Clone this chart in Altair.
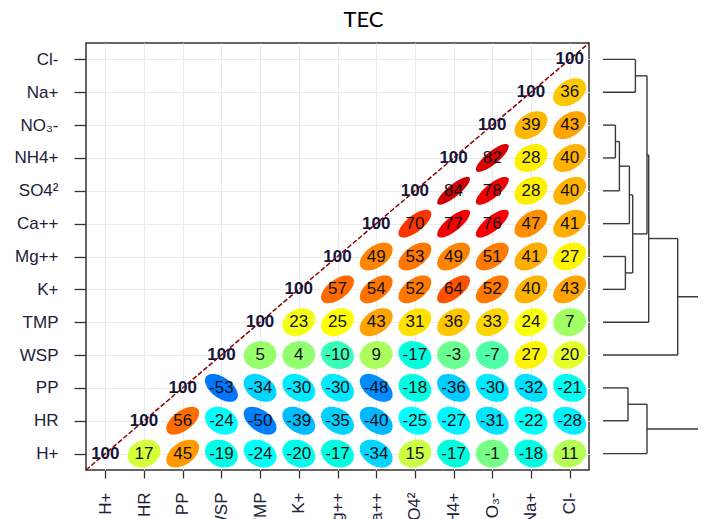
import math
import altair as alt
import pandas as pd

# variable order (x from left, y from bottom)
names = ["H+", "HR", "PP", "WSP", "TMP", "K+", "Mg++", "Ca++", "SO4²", "NH4+", "NO₃-", "Na+", "Cl-"]

# correlations x100, row i holds columns i..12 (upper triangle incl. diagonal)
row_H = [100, 17, 45, -19, -24, -20, -17, -34, 15, -17, -1, -18, 11]
row_HR = [100, 56, -24, -50, -39, -35, -40, -25, -27, -31, -22, -28]
row_PP = [100, -53, -34, -30, -30, -48, -18, -36, -30, -32, -21]
row_WSP = [100, 5, 4, -10, 9, -17, -3, -7, 27, 20]
row_TMP = [100, 23, 25, 43, 31, 36, 33, 24, 7]
row_K = [100, 57, 54, 52, 64, 52, 40, 43]
row_Mg = [100, 49, 53, 49, 51, 41, 27]
row_Ca = [100, 70, 77, 76, 47, 41]
row_SO4 = [100, 84, 78, 28, 40]
row_NH4 = [100, 82, 28, 40]
row_NO3 = [100, 39, 43]
row_Na = [100, 36]
row_Cl = [100]
rows = [row_H, row_HR, row_PP, row_WSP, row_TMP, row_K, row_Mg, row_Ca,
        row_SO4, row_NH4, row_NO3, row_Na, row_Cl]

# dendrogram (rows): merges of leaves (str) or earlier merges (int), with heights
merges = [("NO₃-", "NH4+"), (0, "SO4²"), ("Mg++", "K+"), ("PP", "HR"), (1, "Ca++"),
          (4, 2), ("Cl-", "Na+"), (6, 5), (3, "H+"), (7, "TMP"), (9, "WSP"), (10, 8)]
merge_heights = [0.124, 0.164, 0.224, 0.25, 0.264, 0.297, 0.324, 0.44, 0.44, 0.457, 0.747, 1.5]

jet = ["#00007F", "#0000FF", "#007FFF", "#00FFFF", "#7FFF7F", "#FFFF00", "#FF7F00", "#FF0000", "#7F0000"]
jet_stops = [-1, -0.75, -0.5, -0.25, 0, 0.25, 0.5, 0.75, 1]

KY = 32.85 / 38.7  # cell aspect


def ellipse_path(r, n=48):
    d = math.acos(max(-1.0, min(1.0, r)))
    pts = []
    for k in range(n):
        t = 2 * math.pi * k / n
        pts.append((math.cos(t + d / 2), -KY * math.cos(t - d / 2)))
    return "M" + " L".join(f"{x:.4f},{y:.4f}" for x, y in pts) + " Z"


recs = []
for i, row in enumerate(rows):
    for k, v in enumerate(row):
        j = i + k
        recs.append({"x": j, "y": i, "r": v / 100.0, "lab": str(v),
                     "path": ellipse_path(v / 100.0), "diag": j == i})
df = pd.DataFrame(recs)

n = len(names)
arr = "[" + ",".join("'" + s + "'" for s in names) + "]"
lab_expr = arr + "[datum.value]"

xs = alt.Scale(domain=[-0.5, n - 0.5], nice=False, zero=False)
ys = alt.Scale(domain=[-0.5, n - 0.5], nice=False, zero=False)

xax = alt.Axis(values=list(range(n)), tickCount=n, labelExpr=lab_expr, labelAngle=-90, title=None,
               domain=False, tickSize=8, tickColor="#333333", tickWidth=1.3,
               labelPadding=14, labelFontSize=17, labelFont="Liberation Sans",
               labelColor="#202038", labelOverlap=False,
               grid=True, gridColor="#ebebeb", gridWidth=1)
yax = alt.Axis(values=list(range(n)), tickCount=n, labelExpr=lab_expr, title=None,
               domain=False, tickSize=12, tickColor="#333333", tickWidth=1.3,
               labelPadding=16, labelFontSize=17, labelFont="Liberation Sans",
               labelColor="#202038", labelOverlap=False,
               grid=True, gridColor="#ebebeb", gridWidth=1)

base = alt.Chart(df)

ell = base.transform_filter("!datum.diag").mark_point(
    filled=True, opacity=1, strokeWidth=0, size=1080
).encode(
    x=alt.X("x:Q", scale=xs, axis=xax),
    y=alt.Y("y:Q", scale=ys, axis=yax),
    shape=alt.Shape("path:N", scale=None, legend=None),
    color=alt.Color("r:Q", scale=alt.Scale(domain=jet_stops, range=jet), legend=None),
)

diag_df = pd.DataFrame({"a": [-0.5], "b": [n - 0.5]})
diag = alt.Chart(diag_df).mark_rule(color="#8B0000", strokeWidth=1.5, strokeDash=[5, 2]).encode(
    x=alt.X("a:Q", scale=xs, axis=xax), x2="b:Q", y=alt.Y("a:Q", scale=ys, axis=yax), y2="b:Q"
)

txt = base.transform_filter("!datum.diag").mark_text(
    font="Liberation Sans", fontSize=17, color="#111111"
).encode(x=alt.X("x:Q", scale=xs, axis=xax), y=alt.Y("y:Q", scale=ys, axis=yax), text="lab:N")

txt100 = base.transform_filter("datum.diag").mark_text(
    font="Liberation Sans", fontSize=17, fontWeight="bold", color="#141438"
).encode(x=alt.X("x:Q", scale=xs, axis=xax), y=alt.Y("y:Q", scale=ys, axis=yax), text="lab:N")

matrix = alt.layer(ell, diag, txt, txt100).properties(
    width=503, height=427,
    title=alt.TitleParams("TEC", fontSize=22, font="Lato", fontWeight="normal",
                          anchor="middle", dx=26, offset=10, color="#000000"),
    view=alt.ViewBackground(stroke="#333333", strokeWidth=1.5),
)

# dendrogram segments derived from merges
leaf_y = {nm: i for i, nm in enumerate(names)}
node_y, node_h, segs = [], [], []


def pos(c):
    if isinstance(c, str):
        return leaf_y[c], 0.0
    return node_y[c], node_h[c]


for (a, b), h in zip(merges, merge_heights):
    ya, ha = pos(a)
    yb, hb = pos(b)
    segs.append({"x": ha, "x2": h, "y": ya, "y2": ya})
    segs.append({"x": hb, "x2": h, "y": yb, "y2": yb})
    segs.append({"x": h, "x2": h, "y": ya, "y2": yb})
    node_y.append((ya + yb) / 2)
    node_h.append(h)
seg_df = pd.DataFrame(segs)

dendro = alt.Chart(seg_df).mark_rule(color="#3a3a3a", strokeWidth=1.4, clip=True).encode(
    x=alt.X("x:Q", scale=alt.Scale(domain=[0, 0.95], nice=False, zero=False), axis=None),
    x2="x2:Q",
    y=alt.Y("y:Q", scale=alt.Scale(domain=[-0.5, n - 0.5], nice=False, zero=False), axis=None),
    y2="y2:Q",
).properties(width=95, height=427, view=alt.ViewBackground(stroke="transparent"))

chart = alt.hconcat(matrix, dendro, spacing=11).resolve_scale(
    x="independent", y="independent"
).properties(
    padding={"left": 5, "top": 0, "right": 0, "bottom": 5}
).configure(background="white")

chart.save("out.html", embed_options={"renderer": "svg", "actions": False})
